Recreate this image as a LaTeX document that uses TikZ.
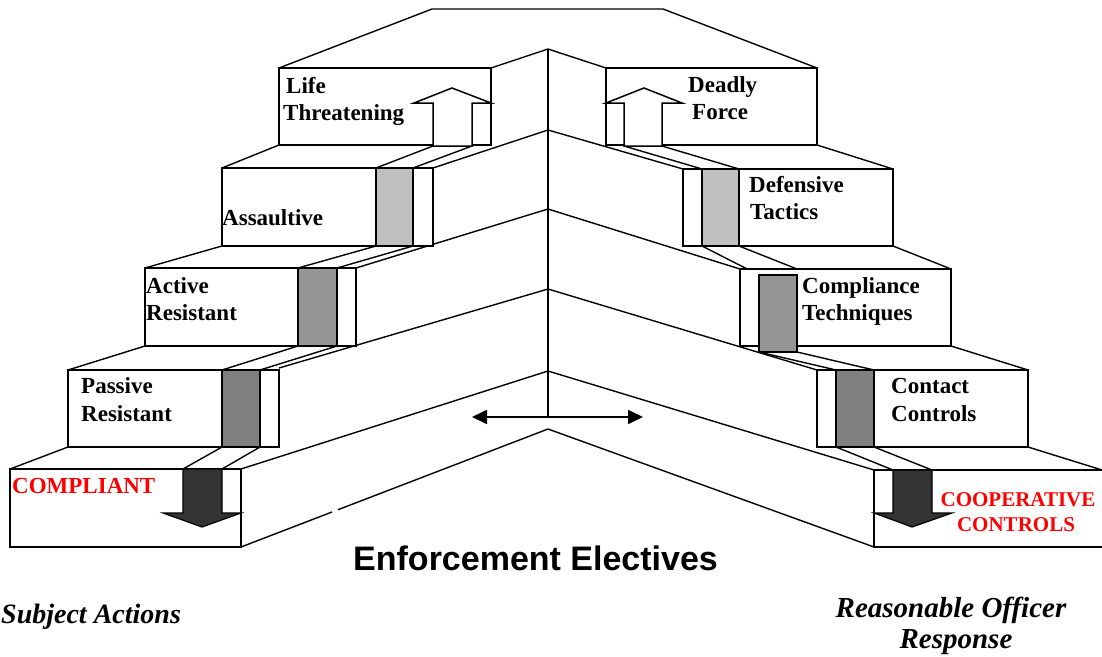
\documentclass[tikz,border=0pt]{standalone}
\usepackage{fontspec}
\setmainfont{Liberation Serif}
\newfontfamily\arialf{Liberation Sans}
\usetikzlibrary{arrows.meta}
\definecolor{grayA}{HTML}{C0C0C0}
\definecolor{grayB}{HTML}{969696}
\definecolor{grayC}{HTML}{808080}
\definecolor{darkarrow}{HTML}{333333}
\definecolor{redtext}{HTML}{FF0000}
\begin{document}
\begin{tikzpicture}[x=1pt,y=-1pt,
  ln/.style={line width=1.4pt},
  bx/.style={draw, line width=1.8pt, fill=white},
  bar/.style={draw, line width=1.6pt},
  uparr/.style={draw, line width=1.5pt, fill=white, line join=miter},
  dnarr/.style={draw, line width=1.2pt, fill=darkarrow, line join=miter},
  lbl/.style={anchor=base west, inner sep=0pt, font=\bfseries\fontsize{23}{27}\selectfont},
  redlbl/.style={anchor=base, inner sep=0pt, text=redtext, font=\bfseries\fontsize{21}{25}\selectfont},
  ital/.style={anchor=base, inner sep=0pt, font=\bfseries\itshape\fontsize{29}{32}\selectfont}]
\useasboundingbox (0,0) rectangle (1102,656);
\fill[white] (0,0) rectangle (1102,656);
% ridge points
\coordinate (r0) at (548,49);
\coordinate (r1) at (548,130);
\coordinate (r2) at (548,209);
\coordinate (r3) at (548,289);
\coordinate (r4) at (548,371);
\coordinate (r5) at (548,429);
\coordinate (rb) at (548,417);
% roof
\draw[ln] (279,68) -- (432,9) -- (663,9) -- (817,68);
% ridge
\draw[ln] (r0) -- (rb);
% left ridge lines
\draw[ln] (r0) -- (491,68);
\draw[ln] (r1) -- (433,168);
\draw[ln] (r2) -- (356,268);
\draw[ln] (r3) -- (279,368);
\draw[ln] (r4) -- (241,469);
\draw[ln] (r5) -- (338,509.7);
\draw[ln] (332,512) -- (241,547);
% right ridge lines
\draw[ln] (r0) -- (606,68);
\draw[ln] (r1) -- (683,169);
\draw[ln] (r2) -- (740,269);
\draw[ln] (r3) -- (817,370);
\draw[ln] (r4) -- (874,470);
\draw[ln] (r5) -- (874,547);
% left connectors between steps
\draw[ln] (279,145) -- (222,168);
\draw[ln] (433,146) -- (376,168);
\draw[ln] (472,146) -- (413,168);
\draw[ln] (222,246) -- (145,268);
\draw[ln] (376,246) -- (298,268);
\draw[ln] (413,246) -- (337,268);
\draw[ln] (145,346) -- (68,370);
\draw[ln] (298,346) -- (222,370);
\draw[ln] (337,346) -- (260,370);
\draw[ln] (68,447) -- (10,469);
\draw[ln] (222,447) -- (183,469);
\draw[ln] (260,447) -- (222,469);
% right connectors between steps
\draw[ln] (624,146) -- (702,169);
\draw[ln] (662,146) -- (739,169);
\draw[ln] (817,145) -- (893,169);
\draw[ln] (702,246) -- (759,275);
\draw[ln] (739,246) -- (797,269);
\draw[ln] (893,246) -- (951,269);
\draw[ln] (759,352) -- (836,370);
\draw[ln] (797,352) -- (874,370);
\draw[ln] (951,346) -- (1028,370);
\draw[ln] (836,447) -- (893,470);
\draw[ln] (874,447) -- (932,470);
\draw[ln] (1028,447) -- (1102,470);
% left boxes
\draw[bx] (279,68) rectangle (491,145);
\draw[bx] (222,168) rectangle (433,246);
\draw[bar, fill=grayA] (376,168) rectangle (413,246);
\draw[bx] (145,268) rectangle (356,346);
\draw[bar, fill=grayB] (298,268) rectangle (337,346);
\draw[bx] (68,370) rectangle (279,447);
\draw[bar, fill=grayC] (222,370) rectangle (260,447);
\draw[bx] (10,469) rectangle (241,547);
% right boxes
\draw[bx] (606,68) rectangle (817,145);
\draw[bx] (683,169) rectangle (893,246);
\draw[bar, fill=grayA] (702,169) rectangle (739,246);
\draw[bx] (740,269) rectangle (951,346);
\draw[bar, fill=grayB] (759,275) rectangle (797,352);
\draw[bx] (817,370) rectangle (1028,447);
\draw[bar, fill=grayC] (836,370) rectangle (874,447);
\fill[white] (874,470) rectangle (1102,547);
\draw[line width=1.8pt] (1102,470) -- (874,470) -- (874,547) -- (1102,547);
% arrows
\draw[uparr] (433,146) -- (433,103) -- (414,103) -- (452,88) -- (491,103) -- (472,103) -- (472,146) -- cycle;
\draw[uparr] (624,146) -- (624,103) -- (606,103) -- (644,88) -- (682,103) -- (662,103) -- (662,146) -- cycle;
\draw[dnarr] (183,469) -- (183,513) -- (163,513) -- (202,527) -- (241,513) -- (222,513) -- (222,469) -- cycle;
\draw[dnarr] (893,470) -- (893,513) -- (874,513) -- (912,527) -- (952,513) -- (932,513) -- (932,470) -- cycle;
% double arrow
\coordinate (dl) at (472,417);
\coordinate (dr) at (643,417);
\draw[line width=1.8pt, {Triangle[length=15pt,width=14pt]}-{Triangle[length=15pt,width=14pt]}] (dl) -- (dr);
% labels left
\node[lbl] (t1a) at (286,93) {Life};
\node[lbl] (t1b) at (283,120) {Threatening};
\node[lbl] (t2) at (222,225) {Assaultive};
\node[lbl] (t3a) at (146,293) {Active};
\node[lbl] (t3b) at (146,320) {Resistant};
\node[lbl] (t4a) at (81,393) {Passive};
\node[lbl] (t4b) at (81,421) {Resistant};
\node[lbl, text=redtext] (t5) at (12,493) {COMPLIANT};
% labels right
\node[lbl] (u1a) at (688,92) {Deadly};
\node[lbl] (u1b) at (692,119) {Force};
\node[lbl] (u2a) at (749,192) {Defensive};
\node[lbl] (u2b) at (750,219) {Tactics};
\node[lbl] (u3a) at (802,293) {Compliance};
\node[lbl] (u3b) at (802,320) {Techniques};
\node[lbl] (u4a) at (891,393) {Contact};
\node[lbl] (u4b) at (891,421) {Controls};
\node[redlbl] (u5a) at (1018,506) {COOPERATIVE};
\node[redlbl] (u5b) at (1016,531) {CONTROLS};
% bottom texts
\node[anchor=base west, inner sep=0pt, font=\arialf\bfseries\fontsize{34}{38}\selectfont] (title) at (353,570) {Enforcement Electives};
\node[anchor=base west, inner sep=0pt, font=\bfseries\itshape\fontsize{28}{32}\selectfont] (subj) at (1,623) {Subject Actions};
\node[ital] (resp1) at (951,617) {Reasonable Officer};
\node[ital] (resp2) at (956,648) {Response};
\end{tikzpicture}
\end{document}
